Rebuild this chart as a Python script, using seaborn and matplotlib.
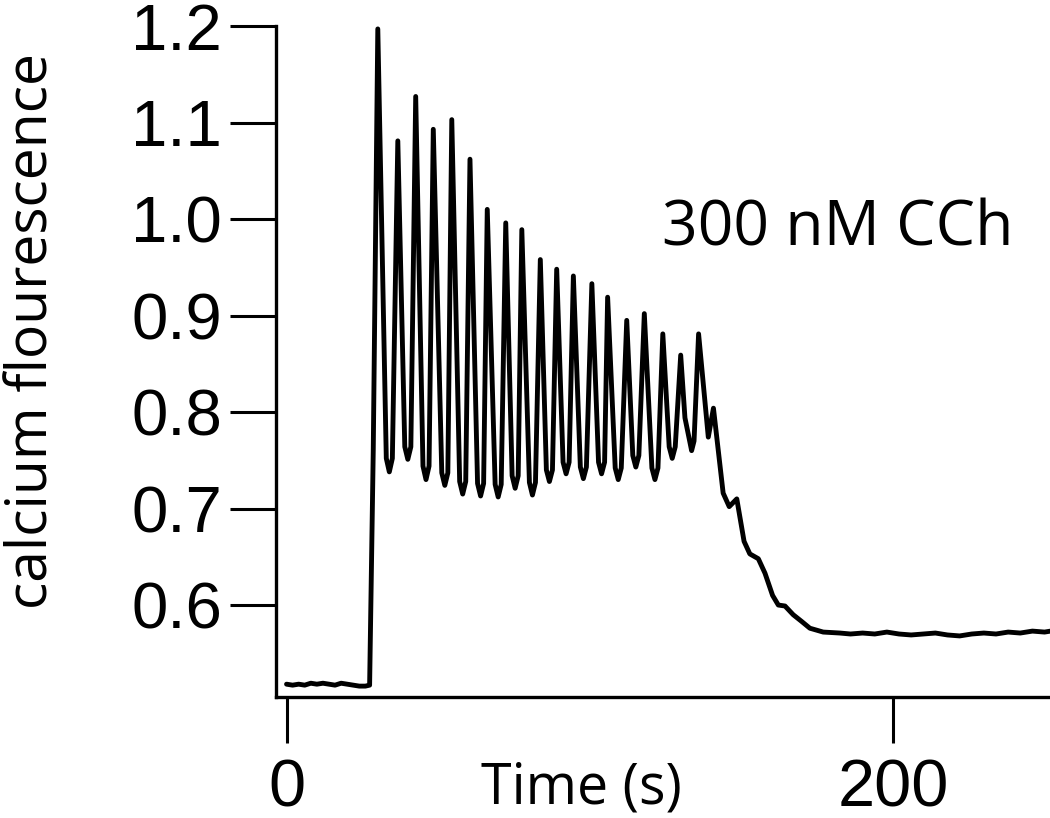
import matplotlib
matplotlib.use("Agg")
import matplotlib.pyplot as plt
import seaborn as sns
import pandas as pd

sns.set_theme(style="ticks")
plt.rcParams['font.family'] = ['Liberation Sans', 'DejaVu Sans']
plt.rcParams['text.color'] = 'black'

# trace: time (s) and calcium fluorescence
time_s = [0, 2, 4, 6, 8, 10, 12, 14, 16, 18, 20, 22, 24, 26, 27.4,
          28.6, 30.1,
          32.9, 33.9, 34.9, 36.7,
          39.0, 40.0, 41.0, 42.6,
          45.0, 46.0, 47.0, 48.4,
          51.2, 52.2, 53.2, 54.5,
          57.1, 58.1, 59.1, 60.5,
          63.0, 64.0, 65.0, 66.2,
          68.8, 69.8, 70.8, 72.3,
          74.4, 75.4, 76.4, 77.6,
          80.1, 81.1, 82.1, 83.7,
          85.7, 86.7, 87.7, 89.1,
          91.2, 92.2, 93.2, 94.6,
          96.9, 97.9, 98.9, 100.7,
          102.9, 103.9, 104.9, 105.9,
          108.4, 109.4, 110.4, 112.2,
          114.2, 115.2, 116.2, 118.0,
          120.5, 121.5, 122.5, 124.1,
          126.2, 127.2, 128.2, 130.0,
          131.4, 133.6, 134.4, 135.9,
          139.1, 140.8, 144.0, 146.0, 148.5, 150.9, 152.8, 155.6, 157.8, 160.3,
          162.2, 164.4, 167.1, 169.9, 172.6, 177.0, 182.5, 186, 190, 194,
          198, 202, 206, 210, 214, 218, 222, 226, 230, 234,
          238, 242, 246, 250, 252]
fluor = [0.518, 0.517, 0.518, 0.517, 0.519, 0.518, 0.519, 0.518, 0.517, 0.519,
         0.518, 0.517, 0.516, 0.516, 0.517,
         0.760, 1.197,
         0.752, 0.738, 0.752, 1.081,
         0.764, 0.751, 0.764, 1.127,
         0.744, 0.730, 0.744, 1.093,
         0.737, 0.724, 0.737, 1.103,
         0.728, 0.715, 0.728, 1.062,
         0.726, 0.713, 0.726, 1.010,
         0.725, 0.712, 0.725, 0.996,
         0.734, 0.721, 0.734, 0.989,
         0.727, 0.714, 0.727, 0.958,
         0.740, 0.728, 0.740, 0.948,
         0.748, 0.736, 0.748, 0.941,
         0.743, 0.731, 0.743, 0.933,
         0.748, 0.736, 0.748, 0.919,
         0.742, 0.730, 0.742, 0.895,
         0.755, 0.743, 0.755, 0.902,
         0.742, 0.730, 0.742, 0.881,
         0.764, 0.752, 0.764, 0.859,
         0.794, 0.760, 0.770, 0.881,
         0.774, 0.804, 0.716, 0.702, 0.710, 0.666, 0.653, 0.648, 0.633, 0.610,
         0.600, 0.599, 0.590, 0.583, 0.576, 0.572, 0.571, 0.570, 0.571, 0.570,
         0.572, 0.570, 0.569, 0.570, 0.571, 0.569, 0.568, 0.570, 0.571, 0.570,
         0.572, 0.571, 0.573, 0.572, 0.573]

y_ticks = [0.6, 0.7, 0.8, 0.9, 1.0, 1.1, 1.2]
x_ticks = [0, 200]

df = pd.DataFrame({'time': time_s, 'fluor': fluor})

fig = plt.figure(figsize=(10.5, 8.18), dpi=100)
ax = fig.add_axes([0.2629, 0.1479, 0.7371, 0.8203])

sns.lineplot(data=df, x='time', y='fluor', ax=ax, color='black',
             linewidth=3.5, estimator=None, sort=False)

ax.set_xlim(-3.46, 251.8)
ax.set_ylim(0.5047, 1.2)
ax.set_yticks(y_ticks)
ax.set_yticklabels([f"{v:.1f}" for v in y_ticks])
ax.set_xticks(x_ticks)
ax.set_xticklabels([str(v) for v in x_ticks])
ax.tick_params(axis='y', length=33, width=2.2, pad=6, labelsize=47, colors='black')
ax.tick_params(axis='x', length=33, width=2.2, pad=11, labelsize=48, colors='black')
ax.set_xlabel('')
ax.set_ylabel('')
for side in ['top', 'right']:
    ax.spines[side].set_visible(False)
for side in ['left', 'bottom']:
    ax.spines[side].set_linewidth(2.4)
    ax.spines[side].set_color('black')
ax.set_facecolor('white')

fig.text(4 / 1050, 0.595, 'calcium flourescence', rotation=90, ha='left', va='center',
         fontsize=41, color='black', family=['Open Sans', 'DejaVu Sans'])
fig.text(481 / 1050, 15 / 818, 'Time (s)', ha='left', va='baseline',
         fontsize=40, color='black', family=['Open Sans', 'DejaVu Sans'])
fig.text(662 / 1050, (818 - 245) / 818, '300 nM CCh', ha='left', va='baseline',
         fontsize=45, color='black', family=['Open Sans', 'DejaVu Sans'])

fig.savefig('out.png', dpi=100, facecolor='white')
